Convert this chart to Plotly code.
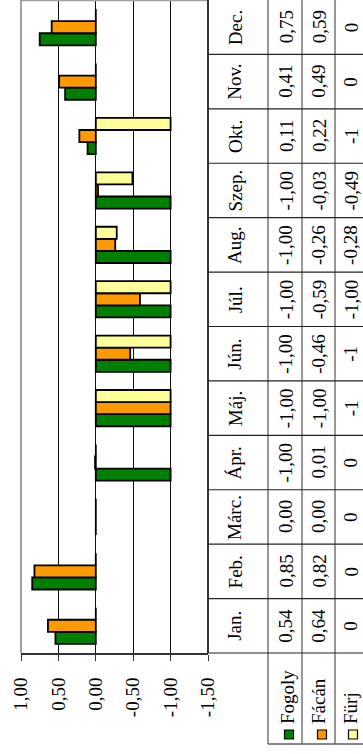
import plotly.graph_objects as go

# Monthly values per species
months = ["Jan.", "Feb.", "Márc.", "Ápr.", "Máj.", "Jún.", "Júl.", "Aug.", "Szep.", "Okt.", "Nov.", "Dec."]
fogoly = [0.54, 0.85, 0.00, -1.00, -1.00, -1.00, -1.00, -1.00, -1.00, 0.11, 0.41, 0.75]
facan = [0.64, 0.82, 0.00, 0.01, -1.00, -0.46, -0.59, -0.26, -0.03, 0.22, 0.49, 0.59]
furj = [0, 0, 0, 0, -1, -1, -1.00, -0.28, -0.49, -1, 0, 0]
furj_decimals = [0, 0, 0, 0, 0, 0, 2, 2, 2, 0, 0, 0]
series_names = ["Fogoly", "Fácán", "Fürj"]
value_ticks = [1.0, 0.5, 0.0, -0.5, -1.0, -1.5]

colors = ["#008000", "#FF9900", "#FFFF99"]
FONT = "Liberation Serif"
FS = 19

W, H = 363, 754
L, R, T, B = 21, 155, 0, 101
PW = W - L - R
PH = H - T - B


def px(p):
    return (p - L) / PW


def py(p):
    return (H - B - p) / PH


def fmt(v, d=2):
    s = f"{v:.{d}f}".replace(".", ",")
    if s.startswith("-") and float(v) == 0:
        s = s[1:]
    return s


fig = go.Figure()
for name, vals, col in zip(series_names, [fogoly, facan, furj], colors):
    fig.add_trace(go.Bar(
        y=months, x=vals, orientation="h", name=name,
        marker=dict(color=col, line=dict(color="black", width=1.8)),
        showlegend=False,
    ))

shapes = []
annotations = []

# plot area border (left and top)
shapes.append(dict(type="line", xref="paper", yref="paper", x0=0, x1=0, y0=0, y1=1,
                   line=dict(color="#a0a0a0", width=2), layer="above"))
shapes.append(dict(type="line", xref="paper", yref="paper", x0=0, x1=1, y0=py(0.6), y1=py(0.6),
                   line=dict(color="#a0a0a0", width=1.5), layer="above"))

# data table grid
col_edges = [208, 268, 302, 335]
n = len(months)
shapes.append(dict(type="line", xref="paper", yref="paper", x0=px(208), x1=px(208),
                   y0=0, y1=1, line=dict(color="#333333", width=2)))
for xe in col_edges[1:]:
    shapes.append(dict(type="line", xref="paper", yref="paper", x0=px(xe), x1=px(xe),
                       y0=py(744), y1=1, line=dict(color="#606060", width=1.3)))
for k in range(n):
    shapes.append(dict(type="line", xref="paper", yref="paper", x0=px(208), x1=px(W + 5),
                       y0=k / n, y1=k / n, line=dict(color="#222222", width=1.2)))
shapes.append(dict(type="line", xref="paper", yref="paper", x0=px(268), x1=px(W + 5),
                   y0=py(744), y1=py(744), line=dict(color="#606060", width=1.3)))


def cell_text(x, y, txt, xa="center", ya="middle"):
    return dict(x=x, y=y, xref="paper", yref="paper", text=txt, textangle=-90,
                showarrow=False, xanchor=xa, yanchor=ya,
                font=dict(family=FONT, size=FS, color="black"))


# table text
col_centers = [286, 319, 351]
for i, m in enumerate(months):
    yc = (i + 0.5) / n
    annotations.append(cell_text(px(235), yc, m))
    cells = [fmt(fogoly[i]), fmt(facan[i]), fmt(furj[i], furj_decimals[i])]
    for c, txt in zip(col_centers, cells):
        annotations.append(cell_text(px(c), yc, txt))

# legend keys in the table's header cells
key_centers = [289, 322, 353]
text_centers = [287, 318, 350]
for name, col, kc, tc in zip(series_names, colors, key_centers, text_centers):
    shapes.append(dict(type="rect", xref="paper", yref="paper",
                       x0=px(kc - 4.5), x1=px(kc + 4.5), y0=py(739), y1=py(730),
                       fillcolor=col, line=dict(color="black", width=1.2)))
    annotations.append(cell_text(px(tc), py(726), name, ya="bottom"))

fig.update_layout(
    width=W, height=H,
    margin=dict(l=L, r=R, t=T, b=B, pad=0),
    paper_bgcolor="white", plot_bgcolor="white",
    barmode="group", bargap=1.5 / 4.5, bargroupgap=0,
    shapes=shapes, annotations=annotations,
    xaxis=dict(range=[1.0, -1.5], tickvals=value_ticks,
               ticktext=[fmt(v) for v in value_ticks],
               tickangle=-90, ticks="outside", ticklen=6, tickwidth=1, tickcolor="#333333",
               ticklabelstandoff=9,
               showline=True, linecolor="#333333", linewidth=2,
               showgrid=True, gridcolor="#111111", gridwidth=1, zeroline=False,
               tickfont=dict(family=FONT, size=FS, color="black")),
    yaxis=dict(range=[-0.5, n - 0.5], showticklabels=False, ticks="", showgrid=False,
               zeroline=False, showline=False),
)

fig.write_html("out.html")
